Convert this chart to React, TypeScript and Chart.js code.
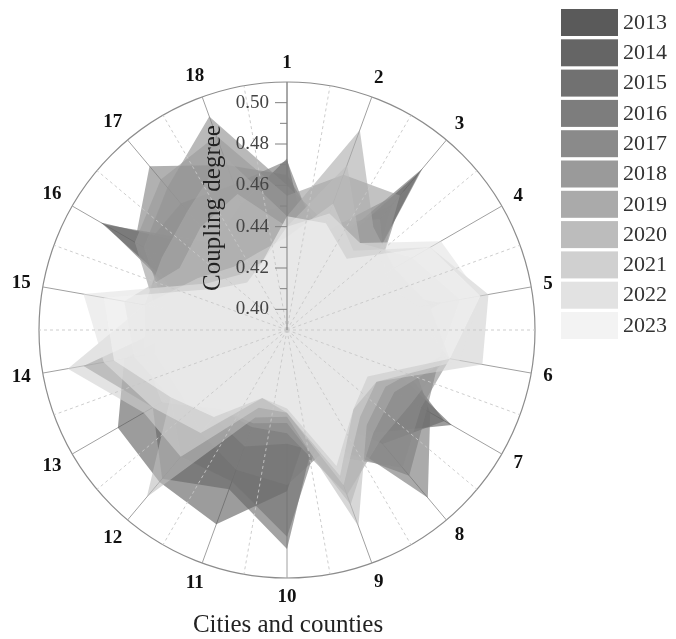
import React, { useEffect, useRef } from 'react';
import { Chart, registerables } from 'chart.js';

Chart.register(...registerables);

const categories = ['1', '2', '3', '4', '5', '6', '7', '8', '9', '10', '11', '12', '13', '14', '15', '16', '17', '18'];
const years = ['2013', '2014', '2015', '2016', '2017', '2018', '2019', '2020', '2021', '2022', '2023'];

// coupling degree per city (1..18) for each year
const y2013 = [0.450, 0.420, 0.490, 0.430, 0.466, 0.430, 0.482, 0.455, 0.430, 0.468, 0.490, 0.486, 0.4845, 0.470, 0.430, 0.494, 0.440, 0.450];
const y2014 = [0.473, 0.425, 0.492, 0.430, 0.440, 0.440, 0.478, 0.462, 0.435, 0.496, 0.472, 0.484, 0.465, 0.490, 0.435, 0.492, 0.445, 0.455];
const y2015 = [0.472, 0.435, 0.470, 0.435, 0.440, 0.450, 0.470, 0.496, 0.440, 0.490, 0.468, 0.470, 0.455, 0.460, 0.440, 0.470, 0.470, 0.465];
const y2016 = [0.465, 0.440, 0.478, 0.440, 0.445, 0.465, 0.468, 0.482, 0.450, 0.465, 0.462, 0.455, 0.450, 0.455, 0.445, 0.475, 0.4935, 0.475];
const y2017 = [0.460, 0.445, 0.460, 0.445, 0.450, 0.470, 0.465, 0.477, 0.455, 0.445, 0.450, 0.445, 0.445, 0.450, 0.450, 0.470, 0.480, 0.500];
const y2018 = [0.455, 0.470, 0.475, 0.440, 0.455, 0.468, 0.460, 0.460, 0.475, 0.440, 0.440, 0.440, 0.450, 0.455, 0.455, 0.475, 0.485, 0.490];
const y2019 = [0.445, 0.493, 0.455, 0.450, 0.460, 0.470, 0.450, 0.455, 0.480, 0.435, 0.438, 0.440, 0.460, 0.460, 0.460, 0.460, 0.465, 0.480];
const y2020 = [0.440, 0.475, 0.445, 0.460, 0.475, 0.465, 0.445, 0.450, 0.491, 0.432, 0.435, 0.4955, 0.455, 0.465, 0.470, 0.450, 0.455, 0.460];
const y2021 = [0.435, 0.455, 0.440, 0.470, 0.489, 0.486, 0.440, 0.445, 0.470, 0.430, 0.430, 0.470, 0.470, 0.4977, 0.460, 0.440, 0.430, 0.430];
const y2022 = [0.440, 0.450, 0.445, 0.476, 0.485, 0.475, 0.440, 0.440, 0.465, 0.430, 0.425, 0.455, 0.465, 0.480, 0.490, 0.435, 0.425, 0.425];
const y2023 = [0.445, 0.445, 0.435, 0.470, 0.485, 0.470, 0.435, 0.440, 0.460, 0.428, 0.425, 0.445, 0.455, 0.475, 0.480, 0.430, 0.420, 0.425];

const yearValues = [y2013, y2014, y2015, y2016, y2017, y2018, y2019, y2020, y2021, y2022, y2023];
const yearColors = ['#5a5a5a', '#656565', '#717171', '#7d7d7d', '#8a8a8a', '#9a9a9a', '#aaaaaa', '#bcbcbc', '#d0d0d0', '#e2e2e2', '#f3f3f3'];

const majorTicks = [0.40, 0.42, 0.44, 0.46, 0.48, 0.50];
const minorTicks = [0.41, 0.43, 0.45, 0.47, 0.49];
const radialTitle = 'Coupling degree';
const angularTitle = 'Cities and counties';

const SERIF = "'Times New Roman', 'Liberation Serif', serif";
const FILL_ALPHA = 0.6;

function rgba(hex: string, a: number) {
  const n = parseInt(hex.slice(1), 16);
  return `rgba(${(n >> 16) & 255},${(n >> 8) & 255},${n & 255},${a})`;
}

const decorPlugin = {
  id: 'decor',
  afterDatasetsDraw(chart: any) {
    const s = chart.scales.r;
    const ctx = chart.ctx;
    const n = chart.data.labels.length;
    const outer = s.getDistanceFromCenterForValue(s.max);
    ctx.save();
    ctx.strokeStyle = 'rgba(200,200,200,0.9)';
    ctx.lineWidth = 1;
    ctx.setLineDash([3, 3]);
    for (let i = 0; i < n; i++) {
      const p = s.getPointPosition(i, outer, Math.PI / n);
      ctx.beginPath();
      ctx.moveTo(s.xCenter, s.yCenter);
      ctx.lineTo(p.x, p.y);
      ctx.stroke();
    }
    ctx.restore();
  },
  afterDraw(chart: any) {
    const s = chart.scales.r;
    const ctx = chart.ctx;
    const cx = s.xCenter;
    const cy = s.yCenter;
    const R = s.getDistanceFromCenterForValue(s.max);
    ctx.save();

    // radial axis line with ticks
    ctx.strokeStyle = '#808080';
    ctx.lineWidth = 1;
    ctx.beginPath();
    ctx.moveTo(cx, cy);
    ctx.lineTo(cx, cy - R);
    ctx.stroke();
    majorTicks.forEach((v) => {
      const y = cy - s.getDistanceFromCenterForValue(v);
      ctx.beginPath();
      ctx.moveTo(cx - 12, y);
      ctx.lineTo(cx, y);
      ctx.stroke();
    });
    minorTicks.forEach((v) => {
      const y = cy - s.getDistanceFromCenterForValue(v);
      ctx.beginPath();
      ctx.moveTo(cx - 7, y);
      ctx.lineTo(cx, y);
      ctx.stroke();
    });
    ctx.fillStyle = '#444';
    ctx.font = `19px ${SERIF}`;
    ctx.textAlign = 'right';
    ctx.textBaseline = 'middle';
    majorTicks.forEach((v) => {
      const y = cy - s.getDistanceFromCenterForValue(v);
      ctx.fillText(v.toFixed(2), cx - 18, y);
    });

    // radial title
    ctx.save();
    ctx.translate(cx - 74, cy - 122);
    ctx.rotate(-Math.PI / 2);
    ctx.fillStyle = '#222';
    ctx.font = `25px ${SERIF}`;
    ctx.textAlign = 'center';
    ctx.textBaseline = 'middle';
    ctx.fillText(radialTitle, 0, 0);
    ctx.restore();

    // category labels
    ctx.font = `bold 19px ${SERIF}`;
    ctx.fillStyle = '#111';
    ctx.textAlign = 'center';
    ctx.textBaseline = 'middle';
    const labels = chart.data.labels;
    labels.forEach((lab: string, i: number) => {
      const ang = (i * 2 * Math.PI) / labels.length;
      const w = ctx.measureText(lab).width;
      const d = R + 11 + Math.abs(Math.sin(ang)) * w / 2 + Math.abs(Math.cos(ang)) * 8;
      const x = cx + Math.sin(ang) * d;
      const y = cy - Math.cos(ang) * d;
      ctx.fillText(lab, x, y);
    });

    // angular title
    ctx.font = `25px ${SERIF}`;
    ctx.fillStyle = '#222';
    ctx.fillText(angularTitle, cx + 1, cy + 295);

    // legend
    ctx.font = `22px ${SERIF}`;
    ctx.textAlign = 'left';
    chart.data.datasets.forEach((ds: any, i: number) => {
      const top = 9 + i * 30.3;
      ctx.fillStyle = yearColors[i];
      ctx.fillRect(561, top, 57, 27);
      ctx.fillStyle = '#333';
      ctx.fillText(ds.label, 623, top + 14);
    });
    ctx.restore();
  },
};

export default function App() {
  const ref = useRef<HTMLCanvasElement>(null);
  useEffect(() => {
    Chart.defaults.font.family = SERIF;
    const chart = new Chart(ref.current as HTMLCanvasElement, {
      type: 'radar',
      data: {
        labels: categories,
        datasets: years.map((y, i) => ({
          label: y,
          data: yearValues[i],
          backgroundColor: rgba(yearColors[i], FILL_ALPHA),
          borderColor: 'rgba(0,0,0,0)',
          borderWidth: 0,
          pointRadius: 0,
          pointHoverRadius: 0,
          fill: 'start',
          order: years.length - 1 - i,
        })),
      },
      options: {
        animation: false,
        responsive: true,
        maintainAspectRatio: false,
        layout: { padding: { left: 39, right: 141, top: 82, bottom: 61 } },
        plugins: { legend: { display: false }, tooltip: { enabled: false }, title: { display: false } },
        scales: {
          r: {
            min: 0.39,
            max: 0.51,
            z: 1,
            ticks: { display: false, stepSize: 0.02 },
            grid: {
              circular: true,
              color: (c: any) => (c.tick && Math.abs(c.tick.value - 0.51) < 1e-6 ? '#8c8c8c' : 'rgba(0,0,0,0)'),
              lineWidth: 1.2,
            },
            angleLines: { display: true, color: '#a0a0a0', lineWidth: 1 },
            pointLabels: { display: false },
          },
        },
      },
      plugins: [decorPlugin],
    } as any);
    return () => chart.destroy();
  }, []);
  return (
    <div style={{ position: 'absolute', left: 0, top: 0, width: 676, height: 639 }}>
      <canvas ref={ref} />
    </div>
  );
}
